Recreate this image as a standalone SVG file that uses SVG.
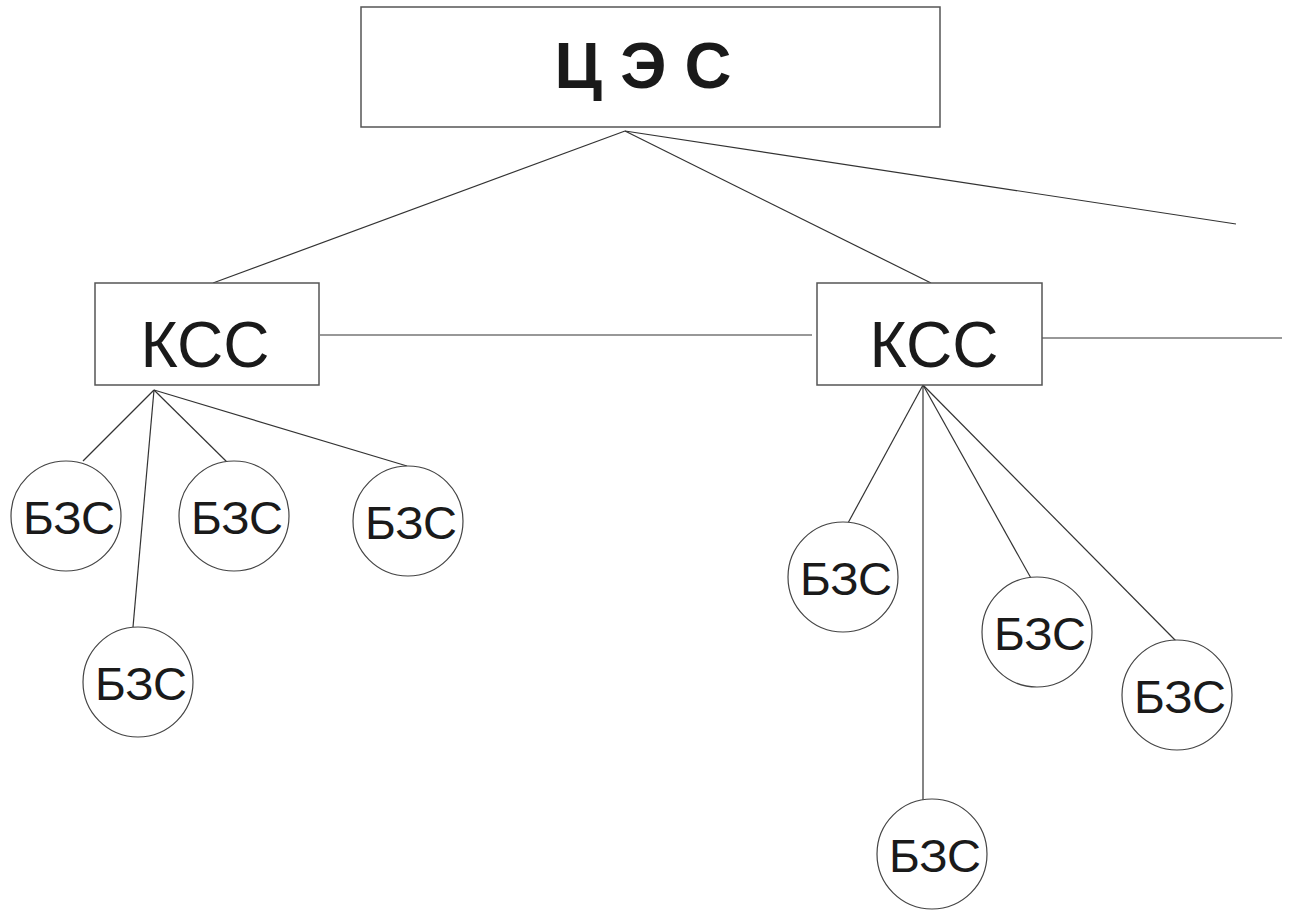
<svg xmlns="http://www.w3.org/2000/svg" width="1289" height="915" viewBox="0 0 1289 915">
<style>
.box{fill:#fff;stroke:#555;stroke-width:1.5}
.circ{fill:#fff;stroke:#444;stroke-width:1.2}
.ln{stroke:#333;stroke-width:1.2;fill:none}
.t{font-family:"Liberation Sans",Arial,sans-serif;fill:#1a1a1a;text-anchor:middle}
.big{font-size:65px;font-weight:bold}
.mid{font-size:64px}
.sm{font-size:47px}
</style>
<rect width="1289" height="915" fill="#fff"/>
<g id="connectors">
<line class="ln" x1="625" y1="131" x2="213" y2="283"/>
<line class="ln" x1="625" y1="131" x2="931" y2="283"/>
<line class="ln" x1="625" y1="131" x2="1236" y2="224"/>
<line class="ln" x1="320" y1="335" x2="812" y2="335"/>
<line class="ln" x1="1042" y1="338" x2="1282" y2="338"/>
<line class="ln" x1="154" y1="390" x2="83" y2="461"/>
<line class="ln" x1="154" y1="390" x2="133" y2="627"/>
<line class="ln" x1="154" y1="390" x2="230" y2="465"/>
<line class="ln" x1="154" y1="390" x2="407" y2="466"/>
<line class="ln" x1="923" y1="385" x2="848" y2="523"/>
<line class="ln" x1="923" y1="385" x2="923" y2="803"/>
<line class="ln" x1="923" y1="385" x2="1032" y2="580"/>
<line class="ln" x1="923" y1="385" x2="1176" y2="641"/>
</g>
<g id="ces">
<rect class="box" x="361" y="7" width="579" height="120"/>
<text class="t big" x="643" y="88" xml:space="preserve">Ц Э С</text>
</g>
<g id="kss1">
<rect class="box" x="95" y="283" width="224" height="102"/>
<text class="t mid" x="205" y="367">КСС</text>
</g>
<g id="kss2">
<rect class="box" x="817" y="283" width="225" height="102"/>
<text class="t mid" x="934" y="367">КСС</text>
</g>
<g id="bzs1"><circle class="circ" cx="66" cy="516" r="55"/><text class="t sm" x="69" y="534">БЗС</text></g>
<g id="bzs2"><circle class="circ" cx="234" cy="516" r="55"/><text class="t sm" x="237" y="534">БЗС</text></g>
<g id="bzs3"><circle class="circ" cx="408" cy="521" r="55"/><text class="t sm" x="411" y="539">БЗС</text></g>
<g id="bzs4"><circle class="circ" cx="138" cy="682" r="55"/><text class="t sm" x="141" y="700">БЗС</text></g>
<g id="bzs5"><circle class="circ" cx="843" cy="577" r="55"/><text class="t sm" x="846" y="595">БЗС</text></g>
<g id="bzs6"><circle class="circ" cx="1037" cy="632" r="55"/><text class="t sm" x="1040" y="650">БЗС</text></g>
<g id="bzs7"><circle class="circ" cx="1177" cy="695" r="55"/><text class="t sm" x="1180" y="713">БЗС</text></g>
<g id="bzs8"><circle class="circ" cx="932" cy="854" r="55"/><text class="t sm" x="935" y="872">БЗС</text></g>
</svg>
